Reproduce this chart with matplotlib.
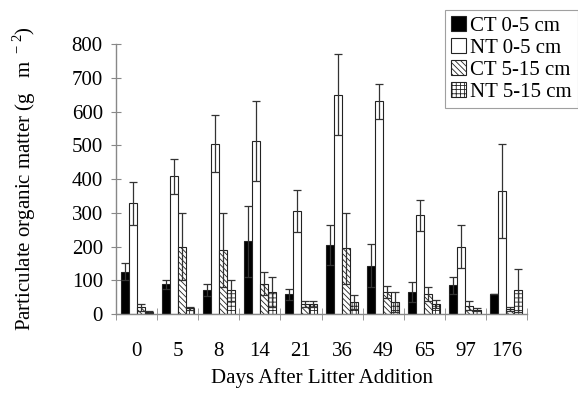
import matplotlib
matplotlib.use("Agg")
import matplotlib.pyplot as plt
import numpy as np

days = ["0", "5", "8", "14", "21", "36", "49", "65", "97", "176"]
series = ["CT 0-5 cm", "NT 0-5 cm", "CT 5-15 cm", "NT 5-15 cm"]
ct_0_5 = [125, 88, 70, 215, 58, 205, 143, 65, 85, 58]
ct_0_5_err = [25, 14, 18, 105, 17, 60, 64, 30, 25, 0]
nt_0_5 = [328, 408, 505, 512, 305, 650, 630, 292, 200, 365]
nt_0_5_err = [64, 52, 85, 118, 63, 120, 53, 45, 65, 140]
ct_5_15 = [20, 200, 190, 90, 30, 195, 65, 60, 25, 15]
ct_5_15_err = [10, 100, 110, 35, 10, 105, 17, 20, 13, 7]
nt_5_15 = [7, 17, 70, 65, 30, 35, 35, 30, 13, 70]
nt_5_15_err = [3, 5, 30, 45, 8, 20, 30, 12, 4, 63]

plt.rcParams['font.family'] = ['Liberation Serif', 'DejaVu Serif']
plt.rcParams['mathtext.fontset'] = 'custom'
plt.rcParams['mathtext.rm'] = 'Liberation Serif'
plt.rcParams['hatch.linewidth'] = 0.6

fs = 15
fig = plt.figure(figsize=(5.78, 3.93), dpi=100)
ax = fig.add_axes([0.2007, 0.201, 0.7111, 0.687])

x = np.arange(len(days))
w = 0.195
vals = [ct_0_5, nt_0_5, ct_5_15, nt_5_15]
errs = [ct_0_5_err, nt_0_5_err, ct_5_15_err, nt_5_15_err]
faces = ['black', 'white', 'white', 'white']
hatches = [None, None, '\\\\\\\\\\\\', '++++']
for i in range(4):
    pos = x + (i - 1.5) * w
    ax.bar(pos, vals[i], width=w, color=faces[i], edgecolor='#222222',
           linewidth=0.8, hatch=hatches[i], label=series[i], zorder=2)
    ax.errorbar(pos, vals[i], yerr=errs[i], fmt='none', ecolor='#333333',
                elinewidth=0.9, capsize=3, capthick=0.9, zorder=3)

ax.set_xlim(-0.5, len(days) - 0.5)
ax.set_ylim(0, 800)
ax.set_yticks(np.arange(0, 801, 100))
ax.set_xticks(x)
ax.set_xticklabels(days)
ax.set_xticks(np.arange(-0.5, len(days), 1), minor=True)
ax.tick_params(axis='x', which='major', length=0, labelsize=fs, pad=20)
ax.tick_params(axis='x', which='minor', length=8, direction='inout', color='#888888')
ax.tick_params(axis='y', length=7, direction='inout', color='#888888', labelsize=fs, pad=6)
for s in ['top', 'right']:
    ax.spines[s].set_visible(False)
for s in ['left', 'bottom']:
    ax.spines[s].set_color('#888888')
    ax.spines[s].set_linewidth(1.0)

ax.set_ylabel('Particulate organic matter (g   m$^{\\ -2}$)', fontsize=fs, labelpad=24)
ax.set_xlabel('Days After Litter Addition', fontsize=fs, labelpad=5)

leg = fig.legend(loc='upper left', bbox_to_anchor=(0.77, 0.975), fontsize=fs,
                 frameon=True, fancybox=False, edgecolor='#888888',
                 handlelength=0.7, handleheight=0.7, handletextpad=0.2,
                 labelspacing=0.12, borderpad=0.3, borderaxespad=0)
leg.get_frame().set_linewidth(0.8)

fig.savefig('out.png', dpi=100)
